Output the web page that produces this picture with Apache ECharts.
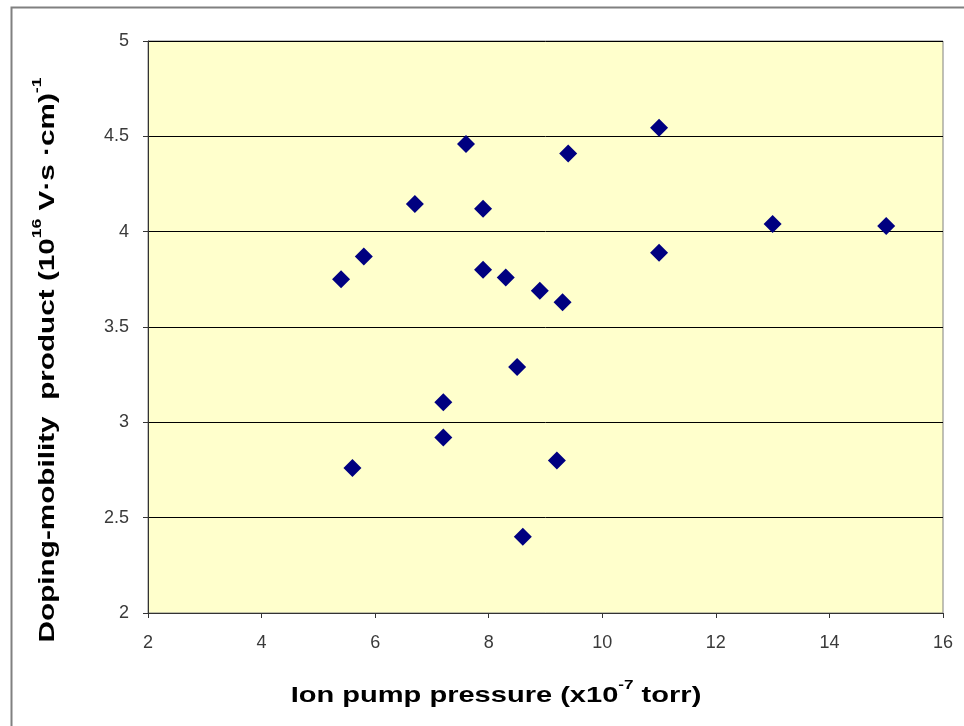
<!DOCTYPE html>
<html>
<head>
<meta charset="utf-8">
<script src="https://cdn.jsdelivr.net/npm/echarts@6/dist/echarts.min.js"></script>
<style>
html,body{margin:0;padding:0;background:#fff;}
#c{width:964px;height:726px;}
</style>
</head>
<body>
<div id="c"></div>
<script>
// Data
var pressure = [6.7, 7.6, 7.9, 9.4, 11.0, 13.0, 15.0, 11.0, 5.8, 5.4, 7.9, 8.3, 8.9, 9.3, 8.5, 7.2, 7.2, 5.6, 9.2, 8.6];
var dopingMobility = [4.145, 4.46, 4.12, 4.41, 4.545, 4.04, 4.03, 3.89, 3.87, 3.75, 3.80, 3.76, 3.69, 3.63, 3.29, 3.105, 2.92, 2.76, 2.80, 2.40];
var xTicks = [2, 4, 6, 8, 10, 12, 14, 16];
var yTicks = [2, 2.5, 3, 3.5, 4, 4.5, 5];

var points = pressure.map(function (p, i) { return [p, dopingMobility[i]]; });

var chart = echarts.init(document.getElementById('c'));
var FONT = 'Arial, "Liberation Sans", sans-serif';
var titleRich = {
  b: { fontFamily: FONT, fontWeight: 'bold', fontSize: 22, lineHeight: 28, color: '#000', verticalAlign: 'bottom' },
  s: { fontFamily: FONT, fontWeight: 'bold', fontSize: 13, lineHeight: 13, color: '#000', verticalAlign: 'top' }
};
chart.setOption({
  animation: false,
  backgroundColor: '#ffffff',
  grid: {
    left: 148, right: 21, top: 41, bottom: 113,
    show: true, backgroundColor: '#FFFFCC', borderColor: '#808080', borderWidth: 1
  },
  xAxis: {
    type: 'value', min: xTicks[0], max: xTicks[xTicks.length - 1], interval: 2,
    axisLine: { show: true, lineStyle: { color: '#333', width: 1 } },
    axisTick: { show: true, length: 5, lineStyle: { color: '#333' } },
    axisLabel: { margin: 21, fontSize: 18, color: '#3a3a3a', fontFamily: FONT },
    splitLine: { show: false }
  },
  yAxis: {
    type: 'value', min: yTicks[0], max: yTicks[yTicks.length - 1], interval: 0.5,
    axisLine: { show: true, lineStyle: { color: '#333', width: 1 } },
    axisTick: { show: true, length: 5, lineStyle: { color: '#333' } },
    axisLabel: { margin: 19, fontSize: 18, color: '#3a3a3a', fontFamily: FONT },
    splitLine: { show: true, lineStyle: { color: '#000', width: 1 } }
  },
  series: [{
    type: 'scatter',
    data: points,
    symbol: 'diamond',
    symbolSize: 18,
    itemStyle: { color: '#000080', opacity: 1 }
  }],
  graphic: [
    { type: 'rect', left: 9, top: 5, shape: { width: 1100, height: 900 }, style: { fill: 'none', stroke: '#808080', lineWidth: 2 }, silent: true, z: 100 },
    { type: 'text', x: 496, y: 693, scaleX: 1.32,
      style: { text: '{b|Ion pump pressure (x10}{s|-7}{b| torr)}', rich: titleRich, align: 'center', verticalAlign: 'middle' } },
    { type: 'text', x: 45, y: 360, rotation: Math.PI / 2, scaleX: 1.35,
      style: { text: '{b|Doping-mobility  product (10}{s|16}{b| V·s ·cm)}{s|-1}', rich: titleRich, align: 'center', verticalAlign: 'middle' } }
  ]
});
</script>
</body>
</html>
